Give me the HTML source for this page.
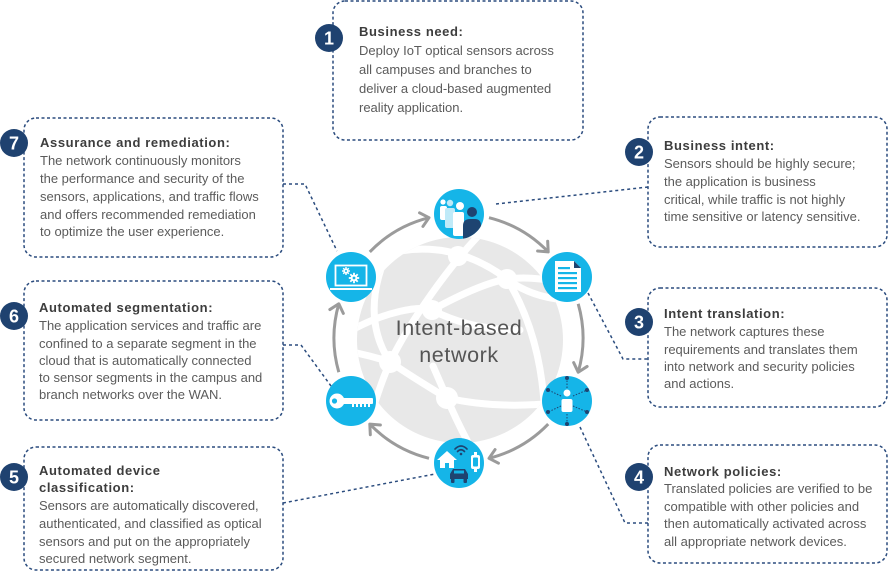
<!DOCTYPE html>
<html><head><meta charset="utf-8">
<style>
html,body{margin:0;padding:0;background:#fff;}
svg{display:block;}
.t{font-family:"Liberation Sans",Arial,sans-serif;font-size:13px;font-weight:bold;fill:#3d3d3d;letter-spacing:0.6px;}
.b{font-family:"Liberation Sans",Arial,sans-serif;font-size:13px;fill:#5b5b5b;}
.n{font-family:"Liberation Sans",Arial,sans-serif;font-size:18px;font-weight:bold;fill:#fff;}
.box{fill:none;stroke:#2b4c7e;stroke-width:1.5;stroke-dasharray:3 2.5;}
.con{fill:none;stroke:#2b4c7e;stroke-width:1.5;stroke-dasharray:3 3;}
.arc{fill:none;stroke:#9b9b9b;stroke-width:3;marker-end:url(#ah);}
.gl{fill:none;stroke:#fff;stroke-width:7;stroke-linecap:round;}
</style></head>
<body>
<svg width="888" height="581" viewBox="0 0 888 581" xmlns="http://www.w3.org/2000/svg">
<defs>
<marker id="ah" viewBox="0 0 14 18" refX="11" refY="9" markerWidth="14" markerHeight="18" markerUnits="userSpaceOnUse" orient="auto">
<path d="M3,2 L11,9 L3,16" fill="none" stroke="#9b9b9b" stroke-width="3" stroke-linecap="round" stroke-linejoin="round"/>
</marker>
<clipPath id="gc"><circle cx="460" cy="340" r="103"/></clipPath>
<clipPath id="c1"><circle cx="459" cy="214" r="25"/></clipPath>
</defs>

<!-- Globe -->
<circle cx="460" cy="340" r="103" fill="#e8e8e8"/>
<g clip-path="url(#gc)">
<path class="gl" d="M395 252 Q455 240 507 279 Q532 298 568 300"/>
<path class="gl" d="M480 234 C448 268 412 318 390 362 C380 385 374 405 370 420"/>
<path class="gl" d="M352 330 C385 312 420 305 432 310 C465 292 490 282 507 279 C530 276 550 280 568 284"/>
<path class="gl" d="M352 352 Q372 356 390 362 Q420 382 447 398 Q500 410 565 402"/>
<path class="gl" d="M507 279 C532 320 545 370 545 430"/>
<path class="gl" d="M447 398 Q456 420 470 446"/>
<path class="gl" d="M432 310 Q470 330 520 330"/>
<path class="gl" d="M385 258 C368 300 372 335 390 362"/>
<path class="gl" d="M433 366 Q440 382 447 398"/>
</g>
<circle cx="458" cy="256" r="10" fill="#fff"/>
<circle cx="507" cy="279" r="10" fill="#fff"/>
<circle cx="432" cy="310" r="10" fill="#fff"/>
<circle cx="390" cy="362" r="11" fill="#fff"/>
<circle cx="447" cy="398" r="11" fill="#fff"/>

<text x="459" y="335" text-anchor="middle" font-family="Liberation Sans, Arial, sans-serif" font-size="21.5" fill="#555" letter-spacing="0.6">Intent-based</text>
<text x="459" y="362" text-anchor="middle" font-family="Liberation Sans, Arial, sans-serif" font-size="21.5" fill="#555" letter-spacing="0.6">network</text>

<!-- Ring arrows -->
<path class="arc" d="M489.0 217.7 A124 124 0 0 1 548.2 251.9"/>
<path class="arc" d="M578.2 303.8 A124 124 0 0 1 578.2 372.2"/>
<path class="arc" d="M548.2 424.1 A124 124 0 0 1 489.0 458.3"/>
<path class="arc" d="M429.0 458.3 A124 124 0 0 1 369.8 424.1"/>
<path class="arc" d="M338.8 372.2 A124 124 0 0 1 338.8 303.8"/>
<path class="arc" d="M369.8 251.9 A124 124 0 0 1 429.0 217.7"/>

<!-- Connectors -->
<path class="con" d="M496 204 L648 187"/>
<path class="con" d="M588 293 L623 359 L648 359"/>
<path class="con" d="M580 427 L625 523 L648 523"/>
<path class="con" d="M283 184 L305 184 L337 251"/>
<path class="con" d="M283 345 L301 345 L331 386"/>
<path class="con" d="M283 503 L435 474"/>

<!-- Icon circles -->
<circle cx="459" cy="214" r="25" fill="#15b5e8"/>
<circle cx="567" cy="277" r="25" fill="#15b5e8"/>
<circle cx="567" cy="401" r="25" fill="#15b5e8"/>
<circle cx="459" cy="463" r="25" fill="#15b5e8"/>
<circle cx="351" cy="401" r="25" fill="#15b5e8"/>
<circle cx="351" cy="277" r="25" fill="#15b5e8"/>

<!-- People icon -->
<g clip-path="url(#c1)">
<circle cx="443" cy="202" r="2.6" fill="#fff"/>
<rect x="440" y="206" width="7" height="14" rx="2" fill="#fff"/>
<circle cx="450" cy="203" r="3.2" fill="#bfeaf8"/>
<rect x="445" y="208" width="10" height="20" rx="2" fill="#bfeaf8"/>
<circle cx="460" cy="206" r="4" fill="#fff"/>
<rect x="453" y="212" width="11" height="24" rx="2" fill="#fff"/>
<circle cx="472" cy="212" r="5" fill="#1e4471"/>
<path d="M463 240 L463 226 Q463 219 470 219 L475 219 Q481 219 481 226 L481 240 Z" fill="#1e4471"/>
</g>

<!-- Document icon -->
<path d="M555 261 L574 261 L581 268 L581 292 L555 292 Z" fill="#fff"/>
<path d="M574 261 L581 268 L574 268 Z" fill="#1e4471"/>
<rect x="558" y="267" width="12" height="2.2" fill="#15b5e8"/>
<rect x="558" y="272" width="19" height="2.2" fill="#15b5e8"/>
<rect x="558" y="277" width="19" height="2.2" fill="#15b5e8"/>
<rect x="558" y="282" width="19" height="2.2" fill="#15b5e8"/>
<rect x="558" y="287" width="19" height="2.2" fill="#15b5e8"/>

<!-- Network person icon -->
<g stroke="#1e4471" stroke-width="1" stroke-dasharray="1.5 1.5">
<line x1="567" y1="388" x2="567" y2="378"/>
<line x1="567" y1="414" x2="567" y2="424"/>
<line x1="561" y1="396" x2="548" y2="390"/>
<line x1="573" y1="396" x2="587" y2="390"/>
<line x1="561" y1="406" x2="548" y2="412"/>
<line x1="573" y1="406" x2="587" y2="412"/>
</g>
<g fill="#1e4471">
<circle cx="567" cy="378" r="2"/><circle cx="567" cy="424" r="2"/>
<circle cx="548" cy="390" r="2"/><circle cx="587" cy="390" r="2"/>
<circle cx="548" cy="412" r="2"/><circle cx="587" cy="412" r="2"/>
</g>
<circle cx="567" cy="393" r="3.5" fill="#fff"/>
<rect x="561.5" y="399" width="11" height="13" rx="2" fill="#fff"/>

<!-- Bottom icon: house, wifi, watch, car -->
<path d="M437 460 L447 451 L457 460 L454 460 L454 468 L449 468 L449 463 L445 463 L445 468 L440 468 L440 460 Z" fill="#fff"/>
<g fill="none" stroke="#1e4471" stroke-width="1.6" stroke-linecap="round">
<path d="M455 449 Q461 443 467 449"/>
<path d="M457.5 451.5 Q461 448 464.5 451.5"/>
</g>
<circle cx="461" cy="454" r="1.3" fill="#1e4471"/>
<rect x="474" y="452" width="3" height="3" fill="#fff"/>
<rect x="474" y="469" width="3" height="3" fill="#fff"/>
<rect x="471" y="455" width="9" height="14" rx="2" fill="#fff"/>
<rect x="473" y="457.5" width="5" height="9" rx="1" fill="#15b5e8"/>
<path d="M450 479 L450 474 L453 469 L465 469 L468 474 L468 479 Z" fill="#1e4471"/>
<rect x="451" y="478" width="3.5" height="5" rx="1" fill="#1e4471"/>
<rect x="463.5" y="478" width="3.5" height="5" rx="1" fill="#1e4471"/>
<rect x="454" y="470.5" width="10" height="3" fill="#15b5e8"/>

<!-- Key icon -->
<circle cx="337" cy="401" r="7.5" fill="#fff"/>
<circle cx="334.5" cy="401" r="2.6" fill="#15b5e8"/>
<rect x="342" y="398" width="31" height="6" rx="1" fill="#fff"/>
<rect x="352" y="403" width="2" height="4" fill="#fff"/>
<rect x="356" y="403" width="2" height="4" fill="#fff"/>
<rect x="360" y="403" width="2" height="4" fill="#fff"/>
<rect x="364" y="403" width="2" height="4" fill="#fff"/>
<rect x="368" y="403" width="2" height="4" fill="#fff"/>

<!-- Laptop icon -->
<rect x="335.5" y="265.5" width="31" height="20" fill="none" stroke="#fff" stroke-width="1.8"/>
<rect x="330" y="288" width="42" height="2" fill="#fff"/>
<g fill="#fff">
<circle cx="346" cy="271" r="2.6"/>
<g stroke="#fff" stroke-width="1.4">
<line x1="346" y1="267" x2="346" y2="275"/><line x1="342" y1="271" x2="350" y2="271"/>
<line x1="343.2" y1="268.2" x2="348.8" y2="273.8"/><line x1="348.8" y1="268.2" x2="343.2" y2="273.8"/>
</g>
<circle cx="354" cy="278" r="3.4"/>
<g stroke="#fff" stroke-width="1.8">
<line x1="354" y1="272.8" x2="354" y2="283.2"/><line x1="348.8" y1="278" x2="359.2" y2="278"/>
<line x1="350.3" y1="274.3" x2="357.7" y2="281.7"/><line x1="357.7" y1="274.3" x2="350.3" y2="281.7"/>
</g>
</g>
<circle cx="346" cy="271" r="1" fill="#15b5e8"/>
<circle cx="354" cy="278" r="1.4" fill="#15b5e8"/>

<!-- Boxes -->
<rect class="box" x="333" y="1" width="250" height="139" rx="12"/>
<rect class="box" x="648" y="117" width="239" height="130" rx="12"/>
<rect class="box" x="648" y="288" width="239" height="119" rx="12"/>
<rect class="box" x="648" y="445" width="239" height="118" rx="12"/>
<rect class="box" x="24" y="118" width="259" height="139" rx="12"/>
<rect class="box" x="24" y="281" width="259" height="139" rx="12"/>
<rect class="box" x="24" y="447" width="259" height="123" rx="12"/>

<!-- Badges -->
<g fill="#1f4270">
<circle cx="329" cy="38" r="14"/>
<circle cx="639" cy="152" r="14"/>
<circle cx="639" cy="322" r="14"/>
<circle cx="639" cy="477" r="14"/>
<circle cx="14" cy="143" r="14"/>
<circle cx="14" cy="316" r="14"/>
<circle cx="14" cy="477" r="14"/>
</g>
<text class="n" x="329" y="44.5" text-anchor="middle">1</text>
<text class="n" x="639" y="158.5" text-anchor="middle">2</text>
<text class="n" x="639" y="328.5" text-anchor="middle">3</text>
<text class="n" x="639" y="483.5" text-anchor="middle">4</text>
<text class="n" x="14" y="149.5" text-anchor="middle">7</text>
<text class="n" x="14" y="322.5" text-anchor="middle">6</text>
<text class="n" x="14" y="483.5" text-anchor="middle">5</text>

<!-- Box 1 -->
<text class="t" x="359" y="36">Business need:</text>
<text class="b" x="359" y="55">Deploy IoT optical sensors across</text>
<text class="b" x="359" y="74">all campuses and branches to</text>
<text class="b" x="359" y="93">deliver a cloud-based augmented</text>
<text class="b" x="359" y="112">reality application.</text>

<!-- Box 2 -->
<text class="t" x="664" y="150">Business intent:</text>
<text class="b" x="664" y="168">Sensors should be highly secure;</text>
<text class="b" x="664" y="186">the application is business</text>
<text class="b" x="664" y="204">critical, while traffic is not highly</text>
<text class="b" x="664" y="221">time sensitive or latency sensitive.</text>

<!-- Box 3 -->
<text class="t" x="664" y="318">Intent translation:</text>
<text class="b" x="664" y="336">The network captures these</text>
<text class="b" x="664" y="354">requirements and translates them</text>
<text class="b" x="664" y="371">into network and security policies</text>
<text class="b" x="664" y="388">and actions.</text>

<!-- Box 4 -->
<text class="t" x="664" y="476">Network policies:</text>
<text class="b" x="664" y="493">Translated policies are verified to be</text>
<text class="b" x="664" y="511">compatible with other policies and</text>
<text class="b" x="664" y="528">then automatically activated across</text>
<text class="b" x="664" y="546">all appropriate network devices.</text>

<!-- Box 7 -->
<text class="t" x="40" y="147">Assurance and remediation:</text>
<text class="b" x="40" y="165">The network continuously monitors</text>
<text class="b" x="40" y="183">the performance and security of the</text>
<text class="b" x="40" y="201">sensors, applications, and traffic flows</text>
<text class="b" x="40" y="219">and offers recommended remediation</text>
<text class="b" x="40" y="236">to optimize the user experience.</text>

<!-- Box 6 -->
<text class="t" x="39" y="312">Automated segmentation:</text>
<text class="b" x="39" y="330">The application services and traffic are</text>
<text class="b" x="39" y="348">confined to a separate segment in the</text>
<text class="b" x="39" y="365">cloud that is automatically connected</text>
<text class="b" x="39" y="382">to sensor segments in the campus and</text>
<text class="b" x="39" y="399">branch networks over the WAN.</text>

<!-- Box 5 -->
<text class="t" x="39" y="475">Automated device</text>
<text class="t" x="39" y="492">classification:</text>
<text class="b" x="39" y="510">Sensors are automatically discovered,</text>
<text class="b" x="39" y="528">authenticated, and classified as optical</text>
<text class="b" x="39" y="546">sensors and put on the appropriately</text>
<text class="b" x="39" y="563">secured network segment.</text>
</svg>
</body></html>
